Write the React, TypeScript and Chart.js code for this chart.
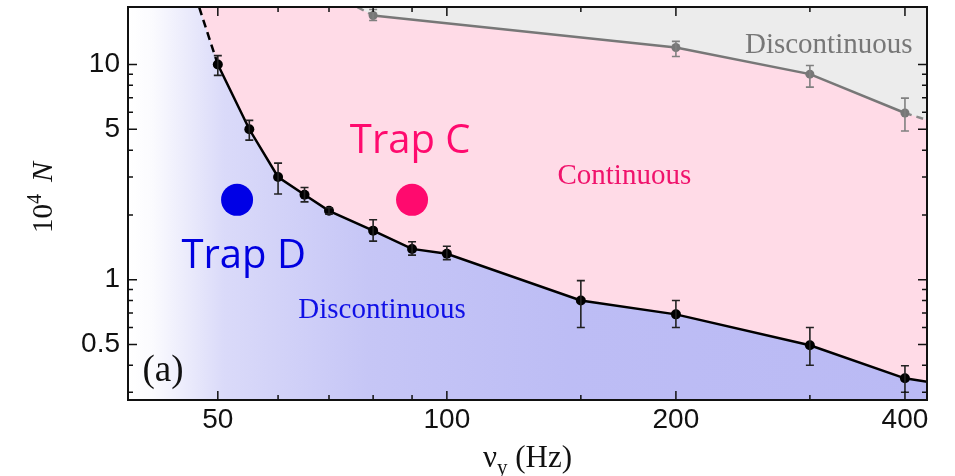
import React, { useEffect, useRef } from "react";
import { Chart, registerables } from "chart.js";

Chart.register(...registerables);

// ---- data ----
// lower boundary (black): trap frequency ν_y (Hz) vs critical 10^4 N
const lowerFreq = [50, 55, 60, 65, 70, 80, 90, 100, 150, 200, 300, 400];
const lowerN = [10, 5, 3.0, 2.48, 2.09, 1.69, 1.39, 1.32, 0.8, 0.69, 0.496, 0.348];
const lowerHi = [11.0, 5.5, 3.48, 2.68, 2.16, 1.9, 1.5, 1.43, 0.99, 0.8, 0.6, 0.398];
const lowerLo = [8.9, 4.45, 2.5, 2.3, 2.02, 1.51, 1.3, 1.24, 0.6, 0.6, 0.4, 0.3];
// extrapolations of the lower boundary
const lowerDashFreq = [50, 46.8];
const lowerDashN = [10, 20.5];
const lowerTailFreq = [400, 440];
const lowerTailN = [0.348, 0.33];

// upper boundary (gray)
const upperFreq = [80, 200, 300, 400];
const upperN = [16.9, 12.0, 9.02, 5.95];
const upperHi = [18.0, 12.8, 9.9, 6.98];
const upperLo = [16.0, 10.9, 7.85, 4.91];
const upperDashLeftFreq = [73.9, 80];
const upperDashLeftN = [19.6, 16.9];
const upperDashRightFreq = [400, 440];
const upperDashRightN = [5.95, 5.35];

// trap markers
const trapFreq = [53, 90];
const trapN = [2.35, 2.35];

// axes
const xMin = 38.1;
const xMax = 427.6;
const yMin = 0.276;
const yMax = 18.5;
const xTicksMajor = [50, 100, 200, 400];
const xTickLabels = ["50", "100", "200", "400"];
const xTicksMinor = [60, 70, 80, 90, 150, 300];
const yTicksMajor = [0.5, 1, 5, 10];
const yTickLabels = ["0.5", "1", "5", "10"];
const yTicksMinor = [0.3, 0.4, 0.6, 0.7, 0.8, 0.9, 2, 3, 4, 6, 7, 8, 9];

// annotation texts (anchored in data coordinates)
const noteTexts = ["Trap C", "Trap D", "Continuous", "Discontinuous", "Discontinuous", "(a)"];
const noteFreq = [89.5, 54.07, 171.1, 82.2, 317.6, 39.8];
const noteN = [3.885, 1.128, 2.782, 0.662, 11.31, 0.338];

const pts = (xs: number[], ys: number[]) => xs.map((x, i) => ({ x, y: ys[i] }));

const PINK_BG = "#ffdbe7";
const GRAY_BG = "#ececec";
const SHIFT = 9; // canvas is drawn 9px taller and shifted up

export default function App() {
  const ref = useRef<HTMLCanvasElement | null>(null);

  useEffect(() => {
    if (!ref.current) return;

    const noteStyles = [
      { font: "40px 'Open Sans'", color: "#ff0a6e", align: "center" },
      { font: "40px 'Open Sans'", color: "#0000e0", align: "center" },
      { font: "29px 'Liberation Serif'", color: "#f0136c", align: "center" },
      { font: "29px 'Liberation Serif'", color: "#1010e6", align: "center" },
      { font: "29px 'Liberation Serif'", color: "#777777", align: "center" },
      { font: "37px 'Liberation Serif'", color: "#111111", align: "left" },
    ];

    const backgroundPlugin = {
      id: "bgPink",
      beforeDatasetsDraw(chart: any) {
        const { ctx, chartArea: a } = chart;
        ctx.save();
        ctx.fillStyle = PINK_BG;
        ctx.fillRect(a.left, a.top, a.right - a.left, a.bottom - a.top);
        ctx.restore();
      },
    };

    const errorBarPlugin = {
      id: "errorBars",
      afterDatasetsDraw(chart: any) {
        const { ctx } = chart;
        const x = chart.scales.x;
        const y = chart.scales.y;
        const a = chart.chartArea;
        ctx.save();
        ctx.beginPath();
        ctx.rect(a.left, a.top, a.right - a.left, a.bottom - a.top);
        ctx.clip();
        const draw = (xs: number[], hi: number[], lo: number[], color: string) => {
          ctx.strokeStyle = color;
          ctx.lineWidth = 1.6;
          xs.forEach((xv, i) => {
            const px = x.getPixelForValue(xv);
            const p1 = y.getPixelForValue(hi[i]);
            const p2 = y.getPixelForValue(lo[i]);
            ctx.beginPath();
            ctx.moveTo(px, p1);
            ctx.lineTo(px, p2);
            ctx.moveTo(px - 4, p1);
            ctx.lineTo(px + 4, p1);
            ctx.moveTo(px - 4, p2);
            ctx.lineTo(px + 4, p2);
            ctx.stroke();
          });
        };
        draw(lowerFreq, lowerHi, lowerLo, "#222222");
        draw(upperFreq, upperHi, upperLo, "#808080");
        ctx.restore();

        // annotation texts
        ctx.save();
        ctx.textBaseline = "alphabetic";
        noteTexts.forEach((t, i) => {
          const s = noteStyles[i];
          ctx.font = s.font;
          ctx.fillStyle = s.color;
          ctx.textAlign = s.align as CanvasTextAlign;
          ctx.fillText(t, x.getPixelForValue(noteFreq[i]), y.getPixelForValue(noteN[i]));
        });
        ctx.restore();
      },
    };

    const framePlugin = {
      id: "frameTicks",
      afterDraw(chart: any) {
        const { ctx, chartArea: a } = chart;
        const x = chart.scales.x;
        const y = chart.scales.y;
        ctx.save();
        ctx.strokeStyle = "#111111";
        ctx.lineWidth = 1.5;
        const xt = (v: number, len: number) => {
          const p = x.getPixelForValue(v);
          ctx.beginPath();
          ctx.moveTo(p, a.bottom);
          ctx.lineTo(p, a.bottom - len);
          ctx.moveTo(p, a.top);
          ctx.lineTo(p, a.top + len);
          ctx.stroke();
        };
        const yt = (v: number, len: number) => {
          const p = y.getPixelForValue(v);
          ctx.beginPath();
          ctx.moveTo(a.left, p);
          ctx.lineTo(a.left + len, p);
          ctx.moveTo(a.right, p);
          ctx.lineTo(a.right - len, p);
          ctx.stroke();
        };
        xTicksMajor.forEach((v) => xt(v, 9));
        xTicksMinor.forEach((v) => xt(v, 5));
        yTicksMajor.forEach((v) => yt(v, 9));
        yTicksMinor.forEach((v) => yt(v, 5));
        ctx.lineWidth = 2;
        ctx.strokeRect(a.left, a.top, a.right - a.left, a.bottom - a.top);

        // axis titles
        ctx.fillStyle = "#111111";
        ctx.textBaseline = "alphabetic";
        ctx.textAlign = "left";
        // x title: ν_y (Hz)
        const cx = (a.left + a.right) / 2;
        const base = a.bottom + 67;
        ctx.font = "31px 'Liberation Serif'";
        const w1 = ctx.measureText("ν").width;
        ctx.font = "21px 'Liberation Serif'";
        const w2 = ctx.measureText("y").width;
        ctx.font = "31px 'Liberation Serif'";
        const w3 = ctx.measureText(" (Hz)").width;
        let sx = cx - (w1 + w2 + w3) / 2;
        ctx.fillText("ν", sx, base);
        sx += w1;
        ctx.font = "21px 'Liberation Serif'";
        ctx.fillText("y", sx, base + 7);
        sx += w2;
        ctx.font = "31px 'Liberation Serif'";
        ctx.fillText(" (Hz)", sx, base);

        // y title: 10^4 N (rotated)
        ctx.save();
        ctx.translate(52, (a.top + a.bottom) / 2);
        ctx.rotate(-Math.PI / 2);
        ctx.font = "29px 'Liberation Serif'";
        const a1 = ctx.measureText("10").width;
        ctx.font = "20px 'Liberation Serif'";
        const a2 = ctx.measureText("4").width;
        ctx.font = "italic 30px 'Liberation Serif'";
        const a3 = ctx.measureText("N").width;
        const gap = 12;
        let sy = -(a1 + a2 + gap + a3) / 2 + 6;
        ctx.font = "29px 'Liberation Serif'";
        ctx.fillText("10", sy, 0);
        sy += a1;
        ctx.font = "20px 'Liberation Serif'";
        ctx.fillText("4", sy, -11);
        sy += a2 + gap;
        ctx.font = "italic 30px 'Liberation Serif'";
        ctx.fillText("N", sy, 0);
        ctx.restore();

        ctx.restore();
      },
    };

    const blueGradient = (context: any) => {
      const chart = context.chart;
      const a = chart.chartArea;
      if (!a) return "#bcbcf5";
      const g = chart.ctx.createLinearGradient(a.left, 0, a.right, 0);
      g.addColorStop(0, "#ffffff");
      g.addColorStop(0.03, "#fbfbfe");
      g.addColorStop(0.12, "#dadaf9");
      g.addColorStop(0.3, "#c6c6f6");
      g.addColorStop(0.55, "#bdbdf5");
      g.addColorStop(1, "#babaf4");
      return g;
    };

    const blueFillData = [
      { x: 36, y: lowerDashN[1] },
      ...pts(lowerDashFreq, lowerDashN).reverse(),
      ...pts(lowerFreq, lowerN).slice(1),
      ...pts(lowerTailFreq, lowerTailN).slice(1),
    ];
    const grayFillData = [
      ...pts(upperDashLeftFreq, upperDashLeftN).slice(0, 1),
      ...pts(upperFreq, upperN),
      ...pts(upperDashRightFreq, upperDashRightN).slice(1),
    ];

    const zeroPad = (s: any) => {
      s.paddingTop = 0;
      s.paddingBottom = 0;
      s.paddingLeft = 0;
      s.paddingRight = 0;
    };

    const chart = new Chart(ref.current, {
      type: "line",
      data: {
        datasets: [
          {
            label: "traps",
            data: pts(trapFreq, trapN),
            showLine: false,
            pointRadius: 16,
            pointHoverRadius: 16,
            pointBackgroundColor: ["#0000e6", "#ff0a6e"],
            pointBorderWidth: 0,
            borderWidth: 0,
          },
          {
            label: "lower",
            data: pts(lowerFreq, lowerN),
            borderColor: "#000000",
            borderWidth: 2.5,
            pointRadius: 5,
            pointBackgroundColor: "#000000",
            pointBorderWidth: 0,
            tension: 0,
            fill: false,
          },
          {
            label: "lowerDash",
            data: pts(lowerDashFreq, lowerDashN),
            borderColor: "#000000",
            borderWidth: 2.5,
            borderDash: [8, 5],
            pointRadius: 0,
            fill: false,
          },
          {
            label: "lowerTail",
            data: pts(lowerTailFreq, lowerTailN),
            borderColor: "#000000",
            borderWidth: 2.5,
            pointRadius: 0,
            fill: false,
          },
          {
            label: "upper",
            data: pts(upperFreq, upperN),
            borderColor: "#777777",
            borderWidth: 2.5,
            pointRadius: 4.5,
            pointBackgroundColor: "#777777",
            pointBorderWidth: 0,
            fill: false,
          },
          {
            label: "upperDashL",
            data: pts(upperDashLeftFreq, upperDashLeftN),
            borderColor: "#8a8a8a",
            borderWidth: 2.5,
            borderDash: [7, 5],
            pointRadius: 0,
            fill: false,
          },
          {
            label: "upperDashR",
            data: pts(upperDashRightFreq, upperDashRightN),
            borderColor: "#8a8a8a",
            borderWidth: 2.5,
            borderDash: [7, 5],
            pointRadius: 0,
            fill: false,
          },
          {
            label: "grayFill",
            data: grayFillData,
            borderWidth: 0,
            borderColor: "rgba(0,0,0,0)",
            pointRadius: 0,
            backgroundColor: GRAY_BG,
            fill: "end",
          },
          {
            label: "blueFill",
            data: blueFillData,
            borderWidth: 0,
            borderColor: "rgba(0,0,0,0)",
            pointRadius: 0,
            backgroundColor: blueGradient,
            fill: "start",
          },
        ],
      },
      options: {
        animation: false,
        responsive: false,
        maintainAspectRatio: false,
        events: [],
        layout: { padding: { left: 0, top: 6, right: 28, bottom: 0 } },
        plugins: {
          legend: { display: false },
          tooltip: { enabled: false },
        },
        scales: {
          x: {
            type: "logarithmic",
            min: xMin,
            max: xMax,
            grid: { display: false, drawTicks: false },
            border: { display: false },
            afterBuildTicks: (s: any) => {
              s.ticks = xTicksMajor.map((v) => ({ value: v }));
            },
            afterFit: (s: any) => {
              s.height = 76;
              zeroPad(s);
            },
            ticks: {
              autoSkip: false,
              maxRotation: 0,
              padding: 3,
              color: "#111111",
              font: { family: "'Liberation Sans'", size: 28 },
              callback: (v: any) => {
                const i = xTicksMajor.indexOf(Number(v));
                return i >= 0 ? xTickLabels[i] : "";
              },
            },
          },
          y: {
            type: "logarithmic",
            min: yMin,
            max: yMax,
            grid: { display: false, drawTicks: false },
            border: { display: false },
            afterBuildTicks: (s: any) => {
              s.ticks = yTicksMajor.map((v) => ({ value: v }));
            },
            afterFit: (s: any) => {
              s.width = 128;
              zeroPad(s);
            },
            ticks: {
              autoSkip: false,
              padding: 8,
              color: "#111111",
              font: { family: "'Liberation Sans'", size: 28 },
              callback: (v: any) => {
                const i = yTicksMajor.indexOf(Number(v));
                return i >= 0 ? yTickLabels[i] : "";
              },
            },
          },
        },
      },
      plugins: [backgroundPlugin, errorBarPlugin, framePlugin],
    } as any);

    return () => chart.destroy();
  }, []);

  return (
    <div
      style={{
        position: "absolute",
        left: 0,
        top: 0,
        width: 955,
        height: 476,
        overflow: "hidden",
        background: "#ffffff",
      }}
    >
      <canvas
        ref={ref}
        width={955}
        height={476 + SHIFT}
        style={{ display: "block", position: "absolute", left: 0, top: -SHIFT, width: 955, height: 476 + SHIFT }}
      />
    </div>
  );
}
